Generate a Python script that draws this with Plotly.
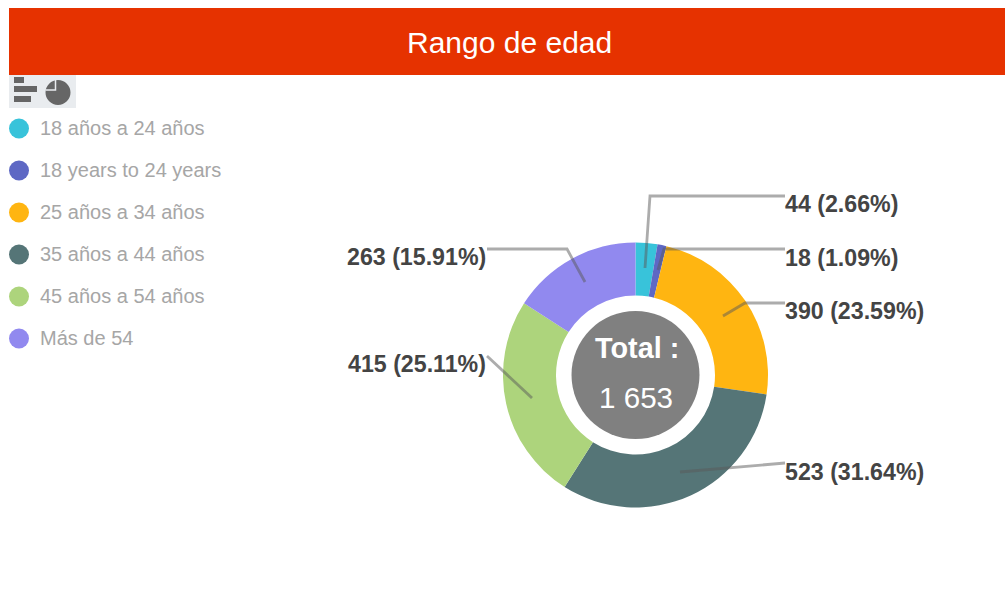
import plotly.graph_objects as go

title = "Rango de edad"
categories = ["18 años a 24 años", "18 years to 24 years", "25 años a 34 años",
              "35 años a 44 años", "45 años a 54 años", "Más de 54"]
values = [44, 18, 390, 523, 415, 263]
colors = ["#38C3DA", "#5E68C4", "#FFB511", "#557577", "#ADD47C", "#9189EF"]
total_label = "Total :"
total_value = "1 653"

W, H = 1005, 605
FONT = "Liberation Sans, Arial, sans-serif"

def X(p): return p / W
def Y(p): return 1 - p / H

CX, CY, R = 635.5, 375, 132.5

total = sum(values)
label_texts = [f"{v} ({v / total * 100:.2f}%)" for v in values]

fig = go.Figure(go.Pie(
    labels=categories, values=values, sort=False, direction="clockwise", rotation=0,
    hole=0.6, textinfo="none", hoverinfo="label+value+percent", showlegend=False,
    marker=dict(colors=colors, line=dict(width=0)),
    domain=dict(x=[X(CX - R), X(CX + R)], y=[Y(CY + R), Y(CY - R)]),
))

shapes = []
annotations = []

def rect(x0, y0, x1, y1, color):
    shapes.append(dict(type="rect", xref="paper", yref="paper", x0=X(x0), x1=X(x1),
                       y0=Y(y1), y1=Y(y0), fillcolor=color, line=dict(width=0), layer="below"))

def circle(cx, cy, r, color, layer="above"):
    shapes.append(dict(type="circle", xref="paper", yref="paper", x0=X(cx - r), x1=X(cx + r),
                       y0=Y(cy + r), y1=Y(cy - r), fillcolor=color, line=dict(width=0), layer=layer))

def text(px, py, s, size, color, anchor="left", bold=False):
    annotations.append(dict(xref="paper", yref="paper", x=X(px), y=Y(py),
                            text=f"<b>{s}</b>" if bold else s, showarrow=False,
                            xanchor=anchor, yanchor="middle",
                            font=dict(family=FONT, size=size, color=color)))

# Header
rect(9, 8, 1005, 75, "#E63200")
text(509.5, 42, title, 30, "#FFFFFF", "center")

# Chart-type icons
rect(9, 75, 76, 108, "#E9ECEF")
rect(14, 77, 24, 83, "#666666")
rect(14, 86, 37, 92, "#666666")
rect(14, 96, 31, 102, "#666666")
circle(58, 92.5, 12.5, "#666666")
px, py = 55.5, 90
shapes.append(dict(type="path", xref="paper", yref="paper",
                   path=f"M {X(45.5)} {Y(py)} L {X(px)} {Y(py)} L {X(px)} {Y(79.5)}",
                   line=dict(color="#E9ECEF", width=1.5)))

# Legend
for i, (c, col) in enumerate(zip(categories, colors)):
    y = 128.5 + i * 42
    circle(19, y, 10, col)
    text(38, y - 0.5, c, 20, "#A6A6A6")

# Centre
circle(CX, CY, 64, "#808080")
text(CX + 1, 348, total_label, 28.8, "#FFFFFF", "center", True)
text(CX + 0.5, 397.5, total_value, 29.6, "#FFFFFF", "center")

# Leader lines
leaders = [
    [(645, 268), (650, 196), (785, 196)],
    [(658, 270), (664, 249), (785, 249)],
    [(723, 316), (745, 303), (785, 303)],
    [(680, 472), (785, 463)],
    [(532, 398), (487, 356)],
    [(585, 282), (567, 249), (487, 249)],
]
for pts in leaders:
    path = "M " + " L ".join(f"{X(a)} {Y(b)}" for a, b in pts)
    shapes.append(dict(type="path", xref="paper", yref="paper", path=path,
                       line=dict(color="rgba(90,90,90,0.5)", width=2.8)))

# Slice labels
label_pos = [(783, 203.5, "left"), (783, 257.5, "left"), (783, 311, "left"),
             (783, 471.5, "left"), (488, 364, "right"), (488, 257, "right")]
for (x, y, a), s in zip(label_pos, label_texts):
    text(x, y, s, 23.2, "#444444", a, True)

fig.update_layout(width=W, height=H, margin=dict(l=0, r=0, t=0, b=0),
                  paper_bgcolor="#FFFFFF", plot_bgcolor="#FFFFFF",
                  shapes=shapes, annotations=annotations)
fig.write_html("out.html", config={"displayModeBar": False},
               post_script="document.body.style.margin='0';document.body.style.overflow='hidden';")
